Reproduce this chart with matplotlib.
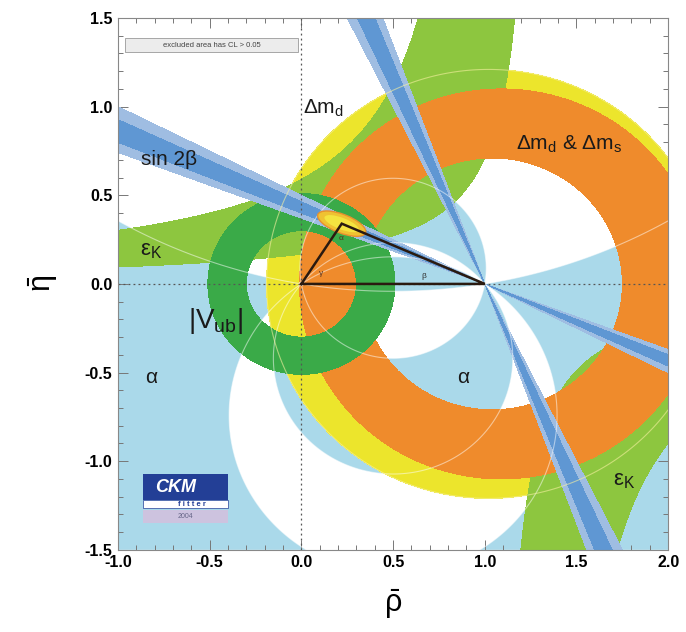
import numpy as np
import matplotlib
matplotlib.use("Agg")
import matplotlib.pyplot as plt
from matplotlib.patches import Ellipse, Rectangle
from matplotlib.ticker import MultipleLocator

plt.rcParams['font.family'] = ['Liberation Sans', 'DejaVu Sans']
plt.rcParams['axes.unicode_minus'] = False
plt.rcParams['mathtext.fontset'] = 'custom'
plt.rcParams['mathtext.rm'] = 'Liberation Sans'
plt.rcParams['mathtext.it'] = 'Liberation Sans'
plt.rcParams['mathtext.bf'] = 'Liberation Sans:bold'

# ---------------- data ----------------
rho_limits = [-1.0, 2.0]
eta_limits = [-1.5, 1.5]
x_ticks = [-1.0, -0.5, 0.0, 0.5, 1.0, 1.5, 2.0]
y_ticks = [-1.5, -1.0, -0.5, 0.0, 0.5, 1.0, 1.5]

# alpha (deg, modulo 180) allowed intervals; last one wraps through 180/0
alpha_bands = [(80.0, 130.0), (146.0, 189.5)]
# sin 2beta bands (outer: CL>0.05, inner: darker)
sin2b_outer = [0.652, 0.800]
sin2b_inner = [0.689, 0.763]
# |Vub/Vcb| ring around (0,0)
vub_radii = [0.30, 0.51]
# Delta m_d ring (yellow): centre rho, radii
dmd_centre = 1.02
dmd_radii = [0.76, 1.21]
# Delta m_d & Delta m_s (orange): inner centre/radius, outer centre/radius
dms_inner = (1.04, 0.71)
dms_outer = (1.09, 1.10)
# eps_K hyperbola family  eta*(b - rho) = k
epsK_b = [1.05, 1.31]
epsK_k = [0.22, 0.62]
# apex of unitarity triangle / global fit
apex = (0.22, 0.34)
fit_ellipse = dict(w=0.28, h=0.105, angle=-22.0)

# region labels
labels = [
    ("Δm$_d$", 0.01, 0.99, 15, 'left'),
    ("Δm$_d$ & Δm$_s$", 1.46, 0.79, 15, 'center'),
    ("sin 2β", -0.72, 0.70, 15, 'center'),
    ("ε$_K$", -0.82, 0.19, 16, 'center'),
    ("|V$_{ub}$|", -0.47, -0.21, 20, 'center'),
    ("α", -0.82, -0.53, 15, 'center'),
    ("α", 0.88, -0.53, 15, 'center'),
    ("ε$_K$", 1.76, -1.11, 16, 'center'),
]

# colours
c_alpha = '#aad9ea'
c_yellow = '#ece52c'
c_epsk = '#8dc63f'
c_orange = '#ef8b2c'
c_vub = '#3aaa48'
c_blue_lt = '#9fbde2'
c_blue = '#5f97d3'

# ---------------- figure ----------------
fig = plt.figure(figsize=(6.86, 6.32), dpi=100)
ax = fig.add_axes([0.172, 0.130, 0.802, 0.8415])
ax.set_xlim(rho_limits)
ax.set_ylim(eta_limits)

n = 1400
rho = np.linspace(rho_limits[0], rho_limits[1], n)
eta = np.linspace(eta_limits[0], eta_limits[1], n)
R, E = np.meshgrid(rho, eta)

# alpha
beta = np.arctan2(E, 1 - R)
gamma = np.arctan2(E, R)
alpha = np.degrees(np.pi - beta - gamma)
f = np.mod(alpha, 180.0)
shift = 50.0
g = np.mod(f - shift, 180.0)
g = np.ma.masked_where((g < 2.0) | (g > 178.0), g)
for lo, hi in alpha_bands:
    ax.contourf(R, E, g, levels=[lo - shift, hi - shift], colors=[c_alpha], zorder=1, antialiased=True)

# Delta m_d (yellow)
d_md = np.hypot(R - dmd_centre, E)
ax.contourf(R, E, d_md, levels=dmd_radii, colors=[c_yellow], zorder=2)

# eps_K
P1 = E * (epsK_b[1] - R)
P2 = E * (epsK_b[0] - R)
D = np.minimum(np.maximum(P1, P2) - epsK_k[0], epsK_k[1] - np.minimum(P1, P2))
ax.contourf(R, E, D, levels=[0, D.max() + 1], colors=[c_epsk], zorder=3)

# Delta m_d & Delta m_s (orange)
d_in = np.hypot(R - dms_inner[0], E) - dms_inner[1]
d_out = dms_outer[1] - np.hypot(R - dms_outer[0], E)
Do = np.minimum(d_in, d_out)
ax.contourf(R, E, Do, levels=[0, Do.max() + 1], colors=[c_orange], zorder=4)

# |Vub|
d_ub = np.hypot(R, E)
ax.contourf(R, E, d_ub, levels=vub_radii, colors=[c_vub], zorder=5)

# sin 2beta
s2b = np.sin(2 * beta)
ax.contourf(R, E, s2b, levels=sin2b_outer, colors=[c_blue_lt], zorder=6)
ax.contourf(R, E, s2b, levels=sin2b_inner, colors=[c_blue], zorder=7)

# faint boundary lines
alpha_lines = sorted([b - shift for band in alpha_bands for b in band])
ax.contour(R, E, g, levels=alpha_lines, colors='white', linewidths=0.8, alpha=0.5, zorder=8)
ax.contour(R, E, d_md, levels=[dmd_radii[1]], colors='#f6f0a0', linewidths=0.8, alpha=0.6, zorder=8)

# dotted axes lines
ax.axhline(0, color='#555555', ls=(0, (1.5, 2.5)), lw=0.9, zorder=9)
ax.axvline(0, color='#555555', ls=(0, (1.5, 2.5)), lw=0.9, zorder=9)

# global fit ellipse
e1 = Ellipse(apex, fit_ellipse['w'], fit_ellipse['h'], angle=fit_ellipse['angle'],
             facecolor='#efc232', edgecolor='#e8902e', lw=1.0, zorder=10)
e2 = Ellipse(apex, fit_ellipse['w'] * 0.72, fit_ellipse['h'] * 0.62, angle=fit_ellipse['angle'],
             facecolor='#f4e440', edgecolor='none', zorder=10)
ax.add_patch(e1)
ax.add_patch(e2)

# triangle
tri_x = [0.0, apex[0], 1.0, 0.0]
tri_y = [0.0, apex[1], 0.0, 0.0]
ax.plot(tri_x, tri_y, color='#2a1a10', lw=1.8, zorder=11, solid_joinstyle='miter')
ax.text(apex[0] - 0.005, apex[1] - 0.09, 'α', fontsize=6, color='#553322', ha='center', zorder=12)
ax.text(0.11, 0.05, 'γ', fontsize=6, color='#553322', ha='center', zorder=12)
ax.text(0.67, 0.035, 'β', fontsize=6, color='#333333', ha='center', zorder=12)

# labels
for txt, x, y, fs, ha in labels:
    ax.text(x, y, txt, fontsize=fs, ha=ha, va='center', color='#1a1a1a', zorder=12)

# excluded-area box
ax.add_patch(Rectangle((0.013, 0.936), 0.314, 0.026, transform=ax.transAxes,
                       facecolor='#ececec', edgecolor='#9a9a9a', lw=0.6, zorder=13))
ax.text(0.17, 0.949, 'excluded area has CL > 0.05', transform=ax.transAxes,
        fontsize=5.5, color='#444444', ha='center', va='center', zorder=14)

# CKMfitter logo
ax.add_patch(Rectangle((0.045, 0.094), 0.155, 0.049, transform=ax.transAxes,
                       facecolor='#233f96', edgecolor='none', zorder=13))
ax.add_patch(Rectangle((0.045, 0.079), 0.155, 0.015, transform=ax.transAxes,
                       facecolor='white', edgecolor='#233f96', lw=0.5, zorder=13))
ax.add_patch(Rectangle((0.045, 0.051), 0.155, 0.024, transform=ax.transAxes,
                       facecolor='#cdc3df', edgecolor='none', zorder=13))
ax.text(0.105, 0.118, 'CKM', transform=ax.transAxes, fontsize=13, fontweight='bold',
        fontstyle='italic', color='white', ha='center', va='center', zorder=14)
ax.text(0.135, 0.086, 'f i t t e r', transform=ax.transAxes, fontsize=5.5, fontweight='bold',
        color='#233f96', ha='center', va='center', zorder=14)
ax.text(0.122, 0.063, '2004', transform=ax.transAxes, fontsize=5, color='#666688',
        ha='center', va='center', zorder=14)

# axes styling
ax.set_xticks(x_ticks)
ax.set_yticks(y_ticks)
ax.set_xticklabels([f"{v:.1f}" for v in x_ticks])
ax.set_yticklabels([f"{v:.1f}" for v in y_ticks])
ax.xaxis.set_minor_locator(MultipleLocator(0.1))
ax.yaxis.set_minor_locator(MultipleLocator(0.1))
ax.tick_params(which='both', direction='in', top=True, right=True, color='#777777', width=0.7, zorder=15)
ax.tick_params(which='major', length=7, labelsize=11.5, pad=4)
ax.tick_params(which='minor', length=3.5)
for lab in ax.get_xticklabels() + ax.get_yticklabels():
    lab.set_fontweight('bold')
for sp in ax.spines.values():
    sp.set_color('#888888')
    sp.set_linewidth(0.8)
    sp.set_zorder(15)

ax.set_xlabel(r'$\bar{\rho}$', fontsize=22, labelpad=12)
ax.set_ylabel(r'$\bar{\eta}$', fontsize=22, labelpad=18)

fig.savefig('out.png', dpi=100)
